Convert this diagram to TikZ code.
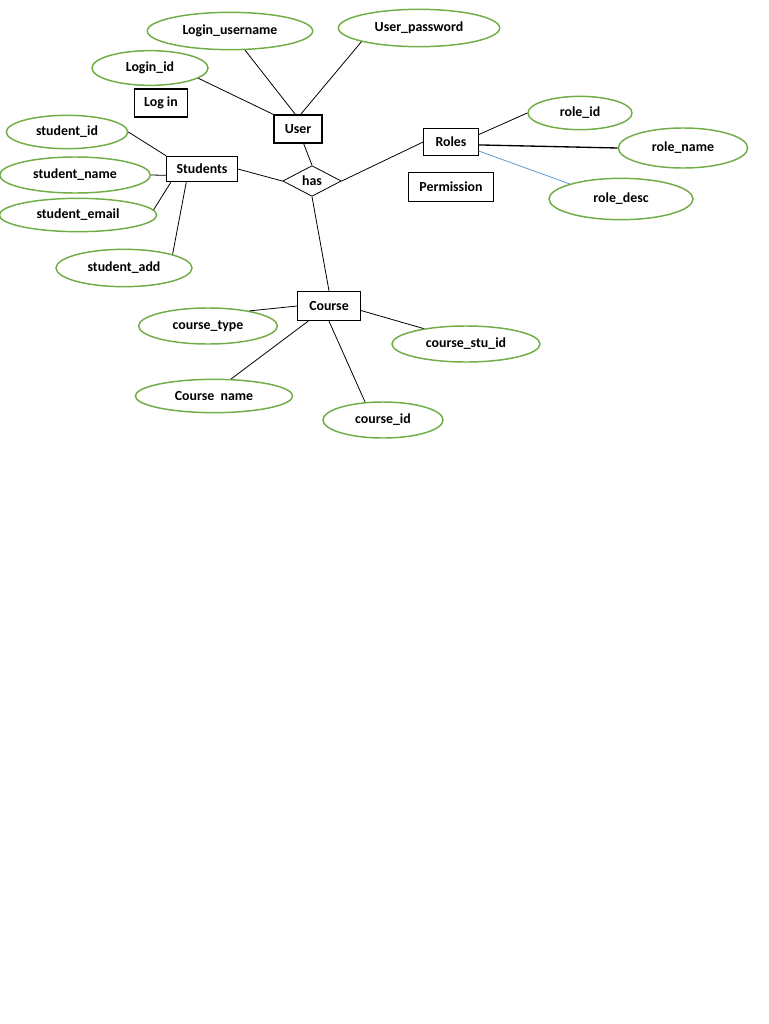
\documentclass[tikz,border=0pt]{standalone}
\usepackage{fontspec}
\setmainfont{Carlito}
\usetikzlibrary{shapes.geometric}
\definecolor{attrgreen}{RGB}{112,173,71}
\definecolor{linkblue}{RGB}{91,155,213}

\tikzset{
    label font/.style={font=\bfseries\fontsize{10.4}{12}\selectfont},
    attr/.style={ellipse, draw=attrgreen, line width=1.1pt, inner sep=0pt, label font},
    entity/.style={rectangle, draw, line width=0.8pt, inner sep=0pt, label font},
    relation/.style={diamond, draw, line width=0.6pt, inner sep=0pt, minimum width=44pt, minimum height=23pt, label font},
    link/.style={line width=0.6pt}
}

\begin{document}
\begin{tikzpicture}[x=0.75pt, y=-0.75pt]
        \useasboundingbox (0,0) rectangle (768,1024);

        \node[attr, minimum width=124pt, minimum height=28pt] (LoginUsername) at (230,31) {Login\_username};
        \node[attr, minimum width=121pt, minimum height=28pt] (UserPassword) at (419,28) {User\_password};
        \node[attr, minimum width=87pt, minimum height=26pt] (LoginId) at (150,68) {Login\_id};
        \node[entity, minimum width=40pt, minimum height=21pt] (LogIn) at (161,103) {Log in};
        \node[entity, minimum width=36pt, minimum height=21pt] (User) at (298,129) {User};

        \node[attr, minimum width=91pt, minimum height=25pt] (StudentId) at (67,132) {student\_id};
        \node[attr, minimum width=113pt, minimum height=27pt] (StudentName) at (75,175) {student\_name};
        \node[attr, minimum width=118pt, minimum height=25pt] (StudentEmail) at (78,215) {student\_email};
        \node[attr, minimum width=102pt, minimum height=28pt] (StudentAdd) at (124,268) {student\_add};
        \node[entity, minimum width=53pt, minimum height=19pt] (Students) at (202,169) {Students};

        \node[relation] (Has) at (312,181) {has};

        \node[entity, minimum width=41pt, minimum height=20pt] (Roles) at (451,142) {Roles};
        \node[entity, minimum width=64pt, minimum height=22pt] (Permission) at (451,187) {Permission};
        \node[attr, minimum width=78pt, minimum height=25pt] (RoleId) at (580,113) {role\_id};
        \node[attr, minimum width=97pt, minimum height=30pt] (RoleName) at (683,148) {role\_name};
        \node[attr, minimum width=108pt, minimum height=31pt] (RoleDesc) at (621,199) {role\_desc};

        \node[entity, minimum width=47pt, minimum height=22pt] (Course) at (329,306) {Course};
        \node[attr, minimum width=104pt, minimum height=27pt] (CourseType) at (208,326) {course\_type};
        \node[attr, minimum width=111pt, minimum height=27pt] (CourseStuId) at (466,344) {course\_stu\_id};
        \node[attr, minimum width=118pt, minimum height=25pt] (CourseName) at (214,396) {Course~~name};
        \node[attr, minimum width=90pt, minimum height=27pt] (CourseId) at (383,420) {course\_id};

        \draw[link] (LoginUsername) -- (User.100);
        \draw[link] (UserPassword.south west) -- (User.80);
        \draw[link] (LoginId.-12) -- (User.north west);
        \draw[link] (User) -- (Has.north);

        \draw[link] (StudentId.east) -- (Students.north west);
        \draw[link] (StudentName.east) -- (Students.190);
        \draw[link] (StudentEmail.4) -- (Students.203);
        \draw[link] (StudentAdd.north east) -- (Students.220);
        \draw[link] (Students.east) -- (Has.west);

        \draw[link] (Has.east) -- (Roles.west);
        \draw[link] (Roles.15) -- (RoleId.west);
        \draw[line width=1pt] (Roles.-6) -- (RoleName.west);
        \draw[link, linkblue] (Roles.-18) -- (RoleDesc.north west);

        \draw[link] (Has.south) -- (Course.north);
        \draw[link] (Course.west) -- (CourseType.20);
        \draw[link] (Course.216) -- (CourseName.45);
        \draw[link] (Course.south) -- (CourseId.135);
        \draw[link] (Course.-8) -- (CourseStuId.160);
    \end{tikzpicture}
\end{document}
